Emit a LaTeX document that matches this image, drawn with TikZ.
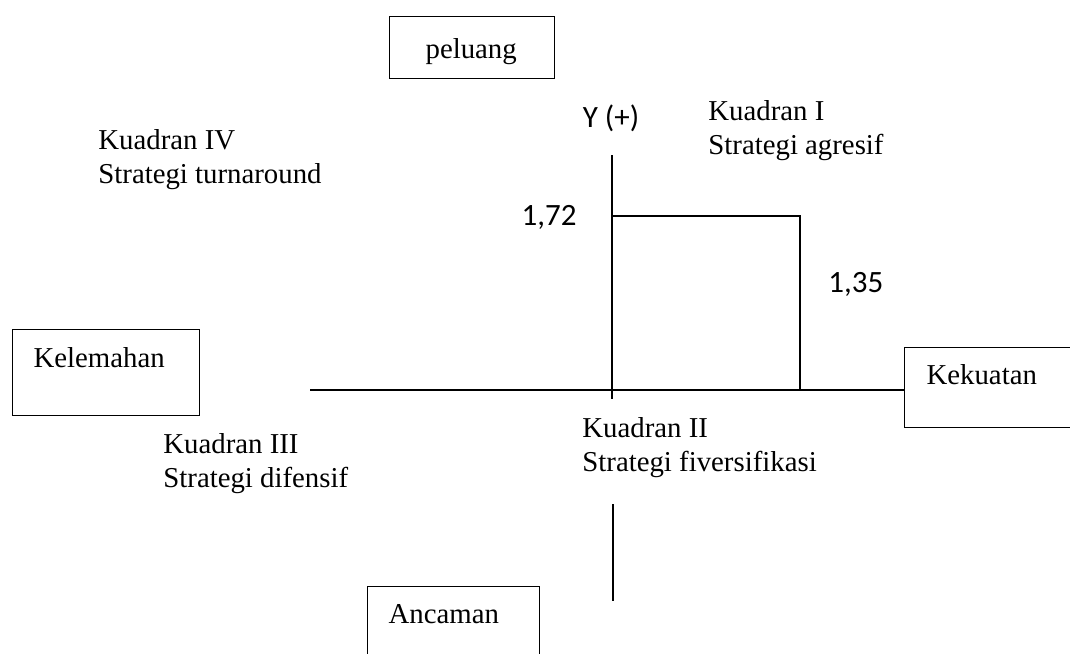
\documentclass[tikz,border=0pt]{standalone}
\usepackage{fontspec}
\setmainfont{Liberation Serif}
\newfontfamily\calibri{Carlito}
\usepackage{tikz}

\begin{document}
\begin{tikzpicture}[x=0.5pt, y=-0.5pt,
    kotak/.style={draw, line width=0.6pt, anchor=north west, inner sep=0pt, align=left,
        font=\fontsize{14.4}{17}\selectfont},
    teks/.style={anchor=base west, inner sep=0pt, align=left, font=\fontsize{14.4}{17}\selectfont},
    angka/.style={inner sep=0pt, font=\calibri\fontsize{15.5}{18}\selectfont},
    garis/.style={line width=1.1pt}]
    \useasboundingbox (0,0) rectangle (1070,653);

    % Kotak faktor
    \node[kotak, inner xsep=18pt, text width=46.5pt, text height=21pt, text depth=10pt] (peluang) at (389,16) {peluang};
    \node[kotak, inner xsep=10.5pt, text width=72.5pt, text height=19pt, text depth=24pt] (kelemahan) at (12,329) {Kelemahan};
    \node[kotak, inner xsep=11pt, text width=66pt, text height=18.5pt, text depth=21.5pt] (kekuatan) at (904,347) {Kekuatan};
    \node[kotak, inner xsep=10.5pt, text width=65pt, text height=18.5pt, text depth=21pt] (ancaman) at (367,586) {Ancaman};

    % Kuadran (base = baris kedua)
    \node[teks] (kuadranIV) at (98,183) {Kuadran IV\\Strategi turnaround};
    \node[teks] (kuadranI) at (708,154) {Kuadran I\\Strategi agresif};
    \node[teks] (kuadranII) at (582,471) {Kuadran II\\Strategi fiversifikasi};
    \node[teks] (kuadranIII) at (163,487) {Kuadran III\\Strategi difensif};

    % Nilai
    \node[angka, anchor=base] (sumbuY) at (611,127) {Y (+)};
    \node[angka, anchor=base east] (nilaiY) at (577,225) {1,72};
    \node[angka, anchor=base west] (nilaiX) at (828,292) {1,35};

    % Sumbu
    \coordinate (O) at (612,390);
    \coordinate (atas) at (612,155);
    \coordinate (ujungY) at (612,399);
    \coordinate (bawah1) at (613,504);
    \coordinate (bawah2) at (613,601);
    \coordinate (kiri) at (310,390);
    \coordinate (titik) at (800,216);
    \draw[garis] (kiri) -- (kiri -| kekuatan.west);
    \draw[garis] (atas) -- (ujungY);
    \draw[garis] (bawah1) -- (bawah2);
    \draw[garis] (O |- titik) -- (titik) -- (titik |- O);
\end{tikzpicture}
\end{document}
